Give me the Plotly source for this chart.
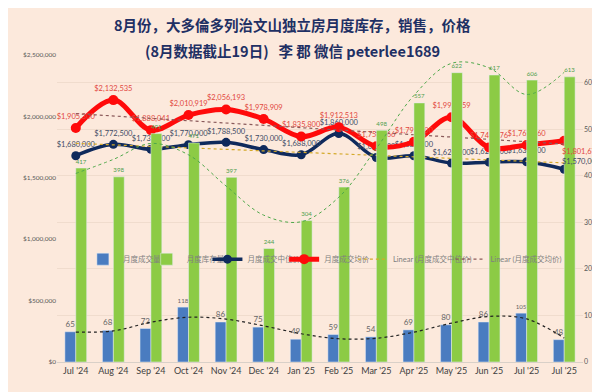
import numpy as np
import plotly.graph_objects as go

months = ["Jul '24", "Aug '24", "Sep '24", "Oct '24", "Nov '24", "Dec '24", "Jan '25",
          "Feb '25", "Mar '25", "Apr '25", "May '25", "Jun '25", "Jul '25", "Jul '25"]
sales = [65, 68, 72, 118, 86, 75, 49, 59, 54, 69, 80, 86, 105, 48]
inventory = [417, 398, 491, 471, 397, 244, 304, 376, 498, 557, 622, 617, 606, 613]
median_price = [1680000, 1772500, 1732500, 1770000, 1788500, 1730000, 1688000,
                1860000, 1665000, 1680000, 1620000, 1627500, 1630000, 1570000]
avg_price = [1905300, 2132535, 1888041, 2010919, 2056193, 1978909, 1835800,
             1912513, 1756266, 1793400, 1992959, 1746676, 1767460, 1801677]

x = np.arange(len(months))

def fit(vals, deg):
    c = np.polyfit(x, np.array(vals, dtype=float), deg)
    return np.polyval(c, x)

def money(v):
    return "${:,.0f}".format(v)

BG = "#FCE9DC"
BLUE = "#4A7CC0"
GREEN = "#8CCB45"
NAVY = "#0F2A5C"
RED = "#FF0A0A"
NAVY_TXT = "#3F4C66"
RED_TXT = "#E2483F"
LAB = "Lato, Noto Sans CJK SC, sans-serif"

fig = go.Figure()

fig.add_trace(go.Bar(
    x=x, y=sales, name="月度成交量", marker_color=BLUE, yaxis="y2", legend="legend",
    text=[str(v) for v in sales], textposition="outside",
    textfont=dict(color="#666666", size=8, family=LAB), cliponaxis=False,
    offsetgroup="a"))
fig.add_trace(go.Bar(
    x=x, y=inventory, name="月度库存量", marker_color=GREEN, yaxis="y2", legend="legend2",
    text=[str(v) for v in inventory], textposition="outside",
    textfont=dict(color="#4E9E4E", size=8, family=LAB), cliponaxis=False,
    offsetgroup="b"))

# polynomial trendlines (not in legend)
fig.add_trace(go.Scatter(
    x=x, y=fit(inventory, 6), mode="lines", yaxis="y2", showlegend=False,
    line=dict(color="#4FA84A", width=1, dash="dot", shape="spline"), hoverinfo="skip"))
fig.add_trace(go.Scatter(
    x=x, y=fit(sales, 6), mode="lines", yaxis="y2", showlegend=False,
    line=dict(color="#222222", width=1.2, dash="dot", shape="spline"), hoverinfo="skip"))

fig.add_trace(go.Scatter(
    x=x, y=median_price, name="月度成交中位价", mode="lines+markers+text", legend="legend3",
    line=dict(color=NAVY, width=3.5, shape="spline"),
    marker=dict(color=NAVY, size=9),
    text=[money(v) for v in median_price[:-1]] + [""],
    textposition="top center",
    textfont=dict(color=NAVY_TXT, size=7.5, family=LAB), cliponaxis=False))
fig.add_trace(go.Scatter(
    x=x, y=avg_price, name="月度成交均价", mode="lines+markers+text", legend="legend4",
    line=dict(color=RED, width=5, shape="spline"),
    marker=dict(color=RED, size=10),
    text=[money(v) for v in avg_price[:-1]] + [""],
    textposition="top center",
    textfont=dict(color=RED_TXT, size=7.5, family=LAB), cliponaxis=False))

fig.add_trace(go.Scatter(
    x=x, y=fit(median_price, 1), mode="lines", name="Linear (月度成交中位价)", legend="legend5",
    line=dict(color="#D4A92A", width=1.2, dash="dot"), hoverinfo="skip"))
fig.add_trace(go.Scatter(
    x=x, y=fit(avg_price, 1), mode="lines", name="Linear (月度成交均价)", legend="legend6",
    line=dict(color="#8A5A5A", width=1.2, dash="dot"), hoverinfo="skip"))

def leg(px):
    return dict(orientation="h", x=(px - 49) / 528, y=0.335, xanchor="left", yanchor="middle",
                bgcolor="rgba(0,0,0,0)", font=dict(size=7.5, color="#7F7F7F", family=LAB),
                itemwidth=30)

right_edge = (596 - 49) / 528
title_font = dict(family="Noto Sans CJK SC, sans-serif", size=14.5, color="#1F3064")
annotations = [
    dict(text="<b>8月份，大多倫多列治文山独立房月度库存，销售，价格</b>", xref="paper", yref="paper",
         x=0.447, y=1.098, xanchor="center", yanchor="middle", showarrow=False, font=title_font),
    dict(text="<b>(8月数据截止19日)   李 郡 微信 peterlee1689</b>", xref="paper", yref="paper",
         x=0.447, y=1.016, xanchor="center", yanchor="middle", showarrow=False, font=title_font),
    # last-point labels, right-aligned to the chart edge beside the final marker
    dict(text=money(median_price[-1]), x=right_edge, y=median_price[-1], xref="paper", yref="y",
         xanchor="right", yanchor="middle", yshift=8, showarrow=False, borderpad=0,
         font=dict(color=NAVY_TXT, size=7.5, family=LAB)),
    dict(text=money(avg_price[-1]), x=right_edge, y=avg_price[-1], xref="paper", yref="y",
         xanchor="right", yanchor="middle", yshift=-11, showarrow=False, borderpad=0,
         font=dict(color=RED_TXT, size=7.5, family=LAB)),
]

fig.update_layout(
    width=600, height=392,
    margin=dict(l=49, r=23, t=47, b=38),
    paper_bgcolor=BG, plot_bgcolor=BG,
    barmode="group", bargap=0.42, bargroupgap=0,
    showlegend=True,
    legend=leg(75), legend2=leg(139), legend3=leg(200), legend4=leg(277),
    legend5=leg(346), legend6=leg(444),
    annotations=annotations,
    xaxis=dict(range=[-0.5, 13.5], tickmode="array", tickvals=list(x), ticktext=months,
               showgrid=False, showline=True, linecolor="#D9D0C8", linewidth=1,
               ticks="", tickfont=dict(size=9, color="#404040", family=LAB), zeroline=False),
    yaxis=dict(range=[0, 2500000], dtick=500000, tickformat="$,.0f", showgrid=False,
               zeroline=False, tickfont=dict(size=6.5, color="#595959", family=LAB)),
    yaxis2=dict(range=[0, 660], tickvals=[0, 100, 200, 300, 400, 500, 600], overlaying="y",
                side="right", showgrid=True, gridcolor="#F0DCCD", gridwidth=1, zeroline=False,
                tickfont=dict(size=7, color="#595959", family=LAB)),
)

fig.write_html("out.html")
